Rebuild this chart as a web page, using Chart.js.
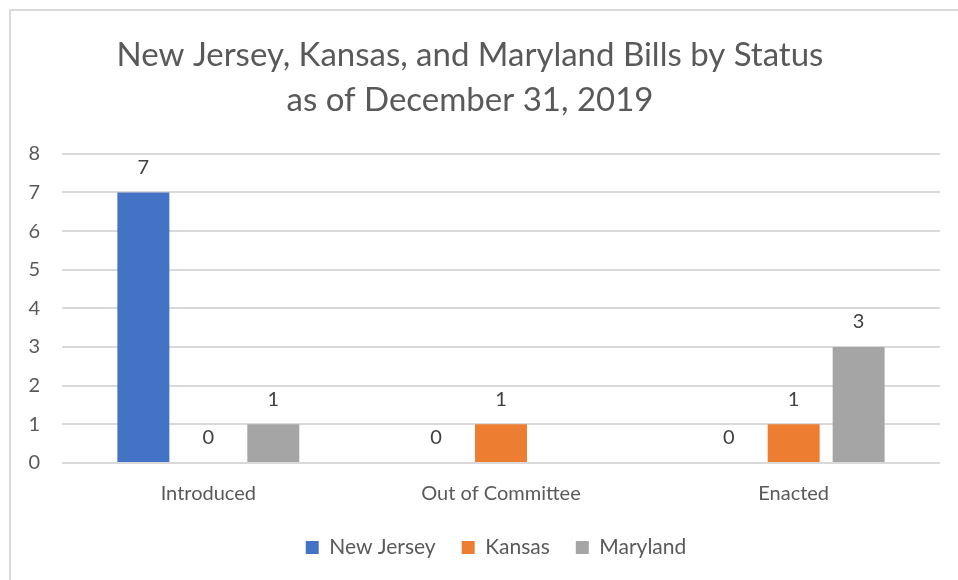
<!DOCTYPE html>
<html>
<head>
<meta charset="utf-8">
<script src="https://cdn.jsdelivr.net/npm/chart.js@4.4.0/dist/chart.umd.min.js"></script>
<style>
  html, body { margin: 0; padding: 0; background: #fff; overflow: hidden; }
  #frame { position: absolute; left: 9px; top: 9px; width: 1000px; height: 620px; border: 2px solid #d9d9d9; box-sizing: border-box; }
  #wrap { position: absolute; left: 0; top: 0; width: 958px; height: 580px; }
</style>
</head>
<body>
<div id="frame"></div>
<div id="wrap"><canvas id="billsChart" width="958" height="580"></canvas></div>
<script>
// Datos
const categories = ['Introduced', 'Out of Committee', 'Enacted'];
const newJersey = [7, 0, 0];
const kansas = [0, 1, 1];
const maryland = [1, null, 3];
const yTicks = [0, 1, 2, 3, 4, 5, 6, 7, 8];

const FONT = "Lato, 'Open Sans', sans-serif";
const TEXT = '#595959';

// Etiquetas encima de cada barra
const valueLabels = {
    id: 'valueLabels',
    afterDatasetsDraw(chart) {
        const ctx = chart.ctx;
        ctx.save();
        ctx.font = `20px ${FONT}`;
        ctx.fillStyle = '#404040';
        ctx.textAlign = 'center';
        ctx.textBaseline = 'middle';
        chart.data.datasets.forEach((ds, i) => {
            const meta = chart.getDatasetMeta(i);
            meta.data.forEach((bar, j) => {
                const v = ds.data[j];
                if (v === null || v === undefined) return;
                ctx.fillText(String(v), bar.x, bar.y - 25);
            });
        });
        ctx.restore();
    }
};

// Desplaza la leyenda un poco a la derecha (como en el original)
const legendShift = {
    id: 'legendShift',
    afterLayout(chart) {
        if (!chart.legend) return;
        chart.legend.left += 26;
        chart.legend.right += 26;
    }
};

const canvas = document.getElementById('billsChart');
new Chart(canvas.getContext('2d'), {
    type: 'bar',
    data: {
        labels: categories,
        datasets: [
            { label: 'New Jersey', data: newJersey, backgroundColor: '#4472c4' },
            { label: 'Kansas', data: kansas, backgroundColor: '#ed7d31' },
            { label: 'Maryland', data: maryland, backgroundColor: '#a5a5a5' }
        ]
    },
    options: {
        responsive: false,
        animation: false,
        layout: { padding: { left: 0, right: 18, top: 33, bottom: 12 } },
        datasets: { bar: { categoryPercentage: 0.666, barPercentage: 0.8 } },
        plugins: {
            title: {
                display: true,
                text: ['New Jersey, Kansas, and Maryland Bills by Status', 'as of December 31, 2019'],
                color: TEXT,
                font: { family: FONT, size: 33, weight: 'normal', lineHeight: 1.36 },
                padding: { top: 0, bottom: 31 }
            },
            legend: {
                position: 'bottom',
                labels: {
                    color: TEXT,
                    font: { family: FONT, size: 21 },
                    boxWidth: 13,
                    boxHeight: 13,
                    padding: 26
                }
            },
            tooltip: { enabled: false }
        },
        scales: {
            x: {
                grid: { display: false, drawTicks: false },
                border: { display: false },
                afterFit: (axis) => { axis.height -= 14; },
                ticks: { color: TEXT, font: { family: FONT, size: 20 }, padding: 19 }
            },
            y: {
                min: 0,
                max: 8,
                afterBuildTicks: (axis) => { axis.ticks = yTicks.map(v => ({ value: v })); },
                afterFit: (axis) => { axis.width = 62; },
                grid: { color: '#d9d9d9', lineWidth: 2, drawTicks: false },
                border: { display: false },
                ticks: { color: TEXT, font: { family: FONT, size: 20 }, padding: 22 }
            }
        }
    },
    plugins: [valueLabels, legendShift]
});
</script>
</body>
</html>
